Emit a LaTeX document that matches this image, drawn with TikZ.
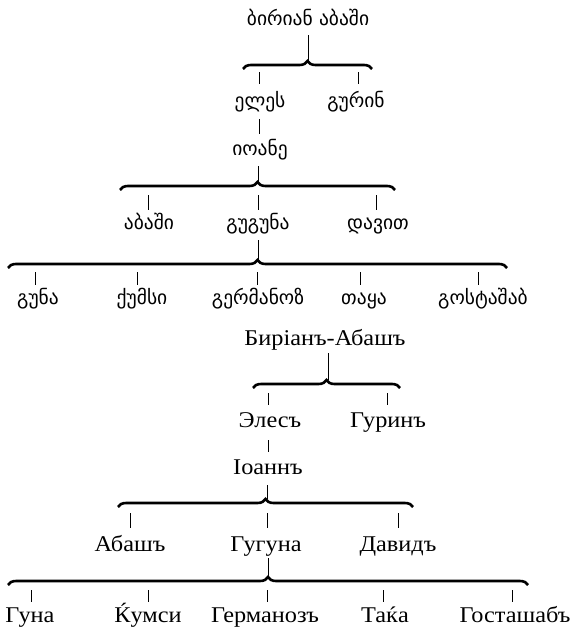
\documentclass[tikz,border=0pt]{standalone}
\usepackage{fontspec}
\setmainfont[FakeStretch=1.08]{Liberation Serif}
\newfontfamily\geo{DejaVu Sans}
\usetikzlibrary{decorations.pathreplacing}
\begin{document}
\begin{tikzpicture}[x=1pt,y=1pt,
  geoname/.style={inner sep=0pt,anchor=base,font=\geo\fontsize{19.5}{19.5}\selectfont},
  runame/.style={inner sep=0pt,anchor=base,font=\fontsize{22.5}{22.5}\selectfont},
  tick/.style={line width=1pt},
  bracebar/.style={line width=2.6pt,decorate,decoration={brace,amplitude=8pt}}]
\useasboundingbox (0,0) rectangle (572,-632);
% ---------------- Georgian ----------------
\node[geoname] (g0) at (308,-25) {ბირიან აბაში};
\node[geoname] (g1) at (260,-107) {ელეს};
\node[geoname] (g2) at (356,-107) {გურინ};
\node[geoname] (g3) at (260,-155) {იოანე};
\node[geoname] (g4) at (149,-229) {აბაში};
\node[geoname] (g5) at (258,-229) {გუგუნა};
\node[geoname] (g6) at (378,-229) {დავით};
\node[geoname] (g7) at (38,-304) {გუნა};
\node[geoname] (g8) at (142,-304) {ქუმსი};
\node[geoname] (g9) at (258,-304) {გერმანოზ};
\node[geoname] (g10) at (364,-304) {თაყა};
\node[geoname] (g11) at (483,-304) {გოსტაშაბ};
% braces
\coordinate (gbA1) at (243,-69); \coordinate (gbA2) at (372,-69);
\coordinate (gbB1) at (120,-190); \coordinate (gbB2) at (395,-190);
\coordinate (gbC1) at (8,-268); \coordinate (gbC2) at (507,-268);
\draw[bracebar] (gbA1) -- (gbA2);
\draw[bracebar] (gbB1) -- (gbB2);
\draw[bracebar] (gbC1) -- (gbC2);
% stems and ticks
\coordinate (gs0a) at (308,-35); \coordinate (gs0b) at (308,-61);
\draw[tick] (gs0a) -- (gs0b);
\coordinate (gt1a) at (259,-72); \coordinate (gt1b) at (259,-84);
\coordinate (gt2a) at (358,-72); \coordinate (gt2b) at (358,-84);
\draw[tick] (gt1a) -- (gt1b);
\draw[tick] (gt2a) -- (gt2b);
\coordinate (gs1a) at (259,-119); \coordinate (gs1b) at (259,-134);
\draw[tick] (gs1a) -- (gs1b);
\coordinate (gs3a) at (258,-166); \coordinate (gs3b) at (258,-182);
\draw[tick] (gs3a) -- (gs3b);
\coordinate (gt4a) at (148,-195); \coordinate (gt4b) at (148,-210);
\coordinate (gt5a) at (258,-195); \coordinate (gt5b) at (258,-210);
\coordinate (gt6a) at (376,-195); \coordinate (gt6b) at (376,-210);
\draw[tick] (gt4a) -- (gt4b);
\draw[tick] (gt5a) -- (gt5b);
\draw[tick] (gt6a) -- (gt6b);
\coordinate (gs5a) at (258,-240); \coordinate (gs5b) at (258,-260);
\draw[tick] (gs5a) -- (gs5b);
\coordinate (gt7a) at (35,-272); \coordinate (gt7b) at (35,-285);
\coordinate (gt8a) at (137,-272); \coordinate (gt8b) at (137,-285);
\coordinate (gt9a) at (257,-272); \coordinate (gt9b) at (257,-285);
\coordinate (gt10a) at (360,-272); \coordinate (gt10b) at (360,-285);
\coordinate (gt11a) at (478,-272); \coordinate (gt11b) at (478,-285);
\draw[tick] (gt7a) -- (gt7b);
\draw[tick] (gt8a) -- (gt8b);
\draw[tick] (gt9a) -- (gt9b);
\draw[tick] (gt10a) -- (gt10b);
\draw[tick] (gt11a) -- (gt11b);
% ---------------- Russian ----------------
\node[runame] (r0) at (325,-345) {Биріанъ-Абашъ};
\node[runame] (r1) at (270,-427) {Элесъ};
\node[runame] (r2) at (388,-427) {Гуринъ};
\node[runame] (r3) at (268,-474) {Іоаннъ};
\node[runame] (r4) at (130,-551) {Абашъ};
\node[runame] (r5) at (266,-551) {Гугуна};
\node[runame] (r6) at (398,-551) {Давидъ};
\node[runame] (r7) at (30,-622) {Гуна};
\node[runame] (r8) at (148,-622) {Ќумси};
\node[runame] (r9) at (265,-622) {Германозъ};
\node[runame] (r10) at (385,-622) {Таќа};
\node[runame] (r11) at (515,-622) {Госташабъ};
\coordinate (rbA1) at (253,-388); \coordinate (rbA2) at (400,-388);
\coordinate (rbB1) at (118,-507); \coordinate (rbB2) at (413,-507);
\coordinate (rbC1) at (8,-585); \coordinate (rbC2) at (528,-585);
\draw[bracebar] (rbA1) -- (rbA2);
\draw[bracebar] (rbB1) -- (rbB2);
\draw[bracebar] (rbC1) -- (rbC2);
\coordinate (rs0a) at (328,-353); \coordinate (rs0b) at (328,-380);
\draw[tick] (rs0a) -- (rs0b);
\coordinate (rt1a) at (268,-393); \coordinate (rt1b) at (268,-405);
\coordinate (rt2a) at (387,-393); \coordinate (rt2b) at (387,-405);
\draw[tick] (rt1a) -- (rt1b);
\draw[tick] (rt2a) -- (rt2b);
\coordinate (rs1a) at (268,-440); \coordinate (rs1b) at (268,-452);
\draw[tick] (rs1a) -- (rs1b);
\coordinate (rs3a) at (267,-485); \coordinate (rs3b) at (267,-499);
\draw[tick] (rs3a) -- (rs3b);
\coordinate (rt4a) at (130,-513); \coordinate (rt4b) at (130,-528);
\coordinate (rt5a) at (267,-513); \coordinate (rt5b) at (267,-528);
\coordinate (rt6a) at (398,-513); \coordinate (rt6b) at (398,-528);
\draw[tick] (rt4a) -- (rt4b);
\draw[tick] (rt5a) -- (rt5b);
\draw[tick] (rt6a) -- (rt6b);
\coordinate (rs5a) at (268,-558); \coordinate (rs5b) at (268,-577);
\draw[tick] (rs5a) -- (rs5b);
\coordinate (rt7a) at (31,-590); \coordinate (rt7b) at (31,-602);
\coordinate (rt8a) at (148,-590); \coordinate (rt8b) at (148,-602);
\coordinate (rt9a) at (267,-590); \coordinate (rt9b) at (267,-602);
\coordinate (rt10a) at (383,-590); \coordinate (rt10b) at (383,-602);
\coordinate (rt11a) at (512,-590); \coordinate (rt11b) at (512,-602);
\draw[tick] (rt7a) -- (rt7b);
\draw[tick] (rt8a) -- (rt8b);
\draw[tick] (rt9a) -- (rt9b);
\draw[tick] (rt10a) -- (rt10b);
\draw[tick] (rt11a) -- (rt11b);
\end{tikzpicture}
\end{document}
